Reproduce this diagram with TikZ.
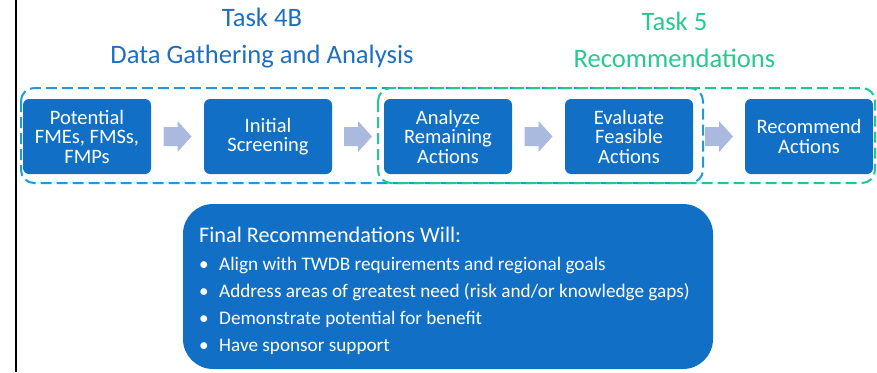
\documentclass[tikz,border=0pt]{standalone}
\usepackage{fontspec}
\setmainfont{Carlito}
\usetikzlibrary{calc}
\definecolor{boxblue}{HTML}{1170C6}
\definecolor{titleblue}{HTML}{1E6FC0}
\definecolor{titlegreen}{HTML}{22CC8F}
\definecolor{dashblue}{HTML}{1B9BD7}
\definecolor{dashgreen}{HTML}{1FC98E}
\definecolor{arrowc}{HTML}{AAB9DE}
\tikzset{
  stepbox/.style={fill=boxblue, text=white, rounded corners=6pt, minimum width=128pt, minimum height=75pt, inner sep=0pt, align=center, font=\fontsize{20.5}{19.5}\selectfont},
  titletext/.style={anchor=base, font=\fontsize{26.6}{30}\selectfont},
  groupbox/.style={line width=2pt, dash pattern=on 11pt off 5pt, rounded corners=13pt},
  bullettext/.style={anchor=base west, text=white, inner sep=0pt, font=\fontsize{19.2}{24}\selectfont},
}
\begin{document}
\begin{tikzpicture}[x=1pt,y=-1pt]
\useasboundingbox (0,0) rectangle (877,372);
\draw[line width=2pt, black] (16,0) -- (16,372);
% titles
\node[titletext, text=titleblue] (t4a) at (262,27) {Task 4B};
\node[titletext, text=titleblue] (t4b) at (262,63) {Data Gathering and Analysis};
\node[titletext, text=titlegreen] (t5a) at (674.5,30) {Task 5};
\node[titletext, text=titlegreen] (t5b) at (674.5,67) {Recommendations};
% group boxes
\draw[groupbox, dashblue] (21,88) rectangle (703,183);
\draw[groupbox, dashgreen] (378,88) rectangle (875,183);
% step boxes
\node[stepbox] (b1) at (87,136.5) {Potential\\FMEs, FMSs,\\FMPs};
\node[stepbox] (b2) at (268,136.5) {Initial\\Screening};
\node[stepbox] (b3) at (448,136.5) {Analyze\\Remaining\\Actions};
\node[stepbox] (b4) at (629,136.5) {Evaluate\\Feasible\\Actions};
\node[stepbox] (b5) at (809,136.5) {Recommend\\Actions};
% arrows
\foreach \a/\b in {b1/b2,b2/b3,b3/b4,b4/b5}{
  \coordinate (m) at ($(\a.east)!0.5!(\b.west)$);
  \fill[arrowc] ($(m)+(-14,-9.5)$) -- ($(m)+(0,-9.5)$) -- ($(m)+(0,-15.5)$) -- ($(m)+(14,0)$)
     -- ($(m)+(0,15.5)$) -- ($(m)+(0,9.5)$) -- ($(m)+(-14,9.5)$) -- cycle;
}
% bottom box
\node[fill=boxblue, rounded corners=30pt, minimum width=530pt, minimum height=165pt, inner sep=0pt] (fr) at (448,286.5) {};
\node[bullettext, font=\fontsize{22.2}{28}\selectfont] (frt) at (199,242) {Final Recommendations Will:};
\foreach \t [count=\i] in {Align with TWDB requirements and regional goals, Address areas of greatest need (risk and/or knowledge gaps), Demonstrate potential for benefit, Have sponsor support}{
  \node[bullettext] (bul\i) at (199,{270+27*(\i-1)}) {•};
  \node[bullettext] (it\i) at (219,{270+27*(\i-1)}) {\t};
}
\end{tikzpicture}
\end{document}
